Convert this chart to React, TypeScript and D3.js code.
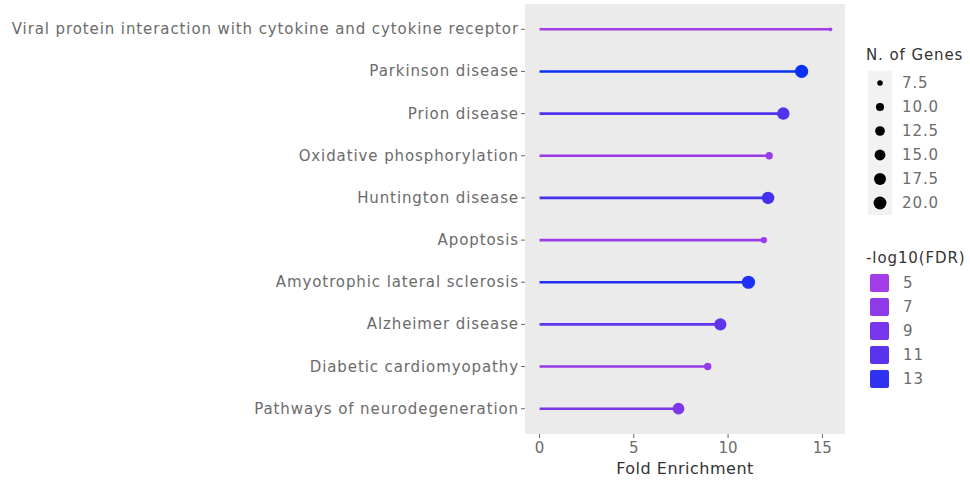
import React from "react";
import * as d3 from "d3";

const categories = [
  "Viral protein interaction with cytokine and cytokine receptor",
  "Parkinson disease",
  "Prion disease",
  "Oxidative phosphorylation",
  "Huntington disease",
  "Apoptosis",
  "Amyotrophic lateral sclerosis",
  "Alzheimer disease",
  "Diabetic cardiomyopathy",
  "Pathways of neurodegeneration",
];
const foldEnrichment = [15.43, 13.9, 12.93, 12.18, 12.12, 11.9, 11.08, 9.59, 8.92, 7.37];
const nGenes = [7, 21, 19, 9, 19, 8, 21, 18, 9, 17];
const negLogFDR = [5.2, 13.8, 11.6, 6.0, 12.2, 5.9, 13.5, 10.6, 6.3, 8.6];
const xTicks = [0, 5, 10, 15];
const sizeBreaks = [7.5, 10.0, 12.5, 15.0, 17.5, 20.0];
const colorBreaks = [5, 7, 9, 11, 13];

const W = 970;
const H = 481;
const panel = { left: 525, right: 845, top: 4, bottom: 434 };
const FONT = "'DejaVu Sans', Verdana, sans-serif";
const TXT = "#6b6b6b";
const LS = 0.9;
const FS = 15;

export default function App() {
  const maxX = d3.max(foldEnrichment) as number;
  const x = d3
    .scaleLinear()
    .domain([-0.05 * maxX, maxX * 1.05])
    .range([panel.left, panel.right]);
  const y = d3
    .scalePoint<string>()
    .domain(categories)
    .range([panel.top, panel.bottom])
    .padding(0.6);
  const gExt = d3.extent(nGenes) as [number, number];
  const rMin = 1.9;
  const rMax = 6.6;
  const r = (g: number) =>
    rMin + (rMax - rMin) * Math.sqrt(Math.max(0, (g - gExt[0]) / (gExt[1] - gExt[0])));
  const cExt = d3.extent(negLogFDR) as [number, number];
  const color = d3
    .scaleLinear<string>()
    .domain([4.6, cExt[1]])
    .range(["#A83EE6", "#0A30F2"])
    .interpolate(d3.interpolateLab);

  const sizeLegendX = 880;
  const sizeLegendY0 = 83;
  const colorLegendY0 = 283;
  const step = 24;

  return (
    <svg width={W} height={H} style={{ display: "block", position: "absolute", left: 0, top: 0 }} fontFamily={FONT}>
      <rect x={0} y={0} width={W} height={H} fill="#ffffff" />
      <rect
        x={panel.left}
        y={panel.top}
        width={panel.right - panel.left}
        height={panel.bottom - panel.top}
        fill="#ebebeb"
      />
      {categories.map((c, i) => (
        <g key={c}>
          <line
            x1={x(0)}
            x2={x(foldEnrichment[i])}
            y1={y(c)}
            y2={y(c)}
            stroke={color(negLogFDR[i])}
            strokeWidth={2.6}
          />
          <circle cx={x(foldEnrichment[i])} cy={y(c)} r={r(nGenes[i])} fill={color(negLogFDR[i])} />
          <line x1={panel.left - 4} x2={panel.left} y1={y(c)} y2={y(c)} stroke={TXT} strokeWidth={1} />
          <text
            x={panel.left - 6}
            y={y(c)}
            textAnchor="end"
            dominantBaseline="central"
            fontSize={FS}
            letterSpacing={LS}
            fill={TXT}
          >
            {c}
          </text>
        </g>
      ))}
      {xTicks.map((t) => (
        <g key={t}>
          <line x1={x(t)} x2={x(t)} y1={panel.bottom} y2={panel.bottom + 4} stroke={TXT} strokeWidth={1} />
          <text x={x(t)} y={panel.bottom + 14} textAnchor="middle" dominantBaseline="central" fontSize={FS} fill={TXT}>
            {t}
          </text>
        </g>
      ))}
      <text
        x={(panel.left + panel.right) / 2}
        y={468}
        textAnchor="middle"
        dominantBaseline="central"
        fontSize={16}
        letterSpacing={0.5}
        fill="#333"
      >
        Fold Enrichment
      </text>

      <text x={866} y={55} dominantBaseline="central" fontSize={FS} letterSpacing={LS} fill="#333">
        N. of Genes
      </text>
      <rect x={868} y={sizeLegendY0 - 12} width={24} height={step * sizeBreaks.length} fill="#f2f2f2" />
      {sizeBreaks.map((b, i) => (
        <g key={b}>
          <circle cx={sizeLegendX} cy={sizeLegendY0 + i * step} r={r(b)} fill="#000" />
          <text x={902} y={sizeLegendY0 + i * step} dominantBaseline="central" fontSize={FS} letterSpacing={LS} fill={TXT}>
            {b.toFixed(1)}
          </text>
        </g>
      ))}

      <text x={866} y={258} dominantBaseline="central" fontSize={FS} letterSpacing={LS} fill="#333">
        -log10(FDR)
      </text>
      {colorBreaks.map((b, i) => (
        <g key={b}>
          <rect x={870} y={colorLegendY0 + i * step - 9} width={19} height={18} rx={2} fill={color(b)} />
          <text x={903} y={colorLegendY0 + i * step} dominantBaseline="central" fontSize={FS} letterSpacing={LS} fill={TXT}>
            {b}
          </text>
        </g>
      ))}
    </svg>
  );
}
